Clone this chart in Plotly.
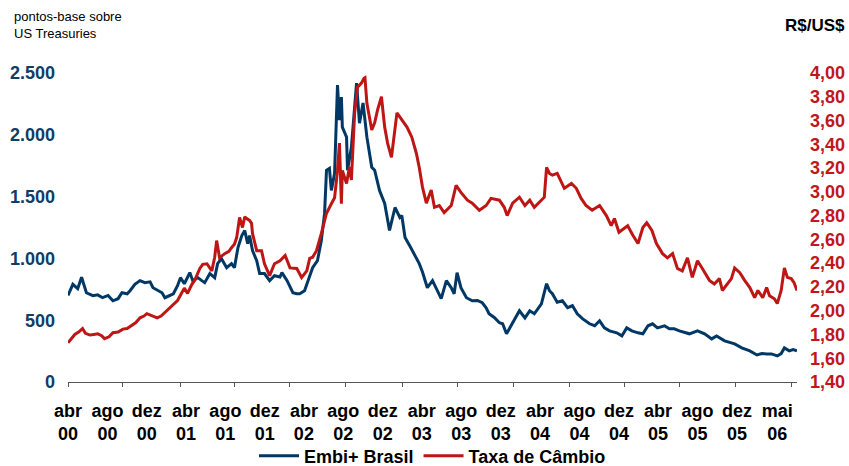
import plotly.graph_objects as go

# ---------------- data ----------------
embi_dates = [
    "2000-04-01","2000-04-16","2000-05-01","2000-05-13","2000-05-28","2000-06-17","2000-07-02","2000-07-17",
    "2000-08-03","2000-08-18","2000-09-03","2000-09-15","2000-10-01","2000-10-10","2000-10-25","2000-11-10",
    "2000-11-25","2000-12-11","2000-12-20","2001-01-05","2001-01-17","2001-01-26","2001-02-12","2001-02-21",
    "2001-03-06","2001-03-15","2001-03-27","2001-04-13","2001-04-22","2001-05-08","2001-05-20","2001-05-29",
    "2001-06-14","2001-06-29","2001-07-08","2001-07-20","2001-08-05","2001-08-20","2001-08-29","2001-09-09",
    "2001-09-21","2001-09-30","2001-10-09","2001-10-15","2001-10-24","2001-11-06","2001-11-15","2001-11-30",
    "2001-12-16","2001-12-31","2002-01-17","2002-01-23","2002-02-08","2002-02-17","2002-02-26","2002-03-10",
    "2002-03-19","2002-04-03","2002-04-12","2002-04-28","2002-05-13","2002-05-25","2002-06-04","2002-06-10",
    "2002-06-19","2002-06-25","2002-07-05","2002-07-14","2002-07-20","2002-07-26","2002-07-29","2002-08-11",
    "2002-08-14","2002-08-26","2002-09-05","2002-09-11","2002-09-20","2002-10-01","2002-10-13","2002-10-22",
    "2002-10-28","2002-11-06","2002-11-15","2002-11-21","2002-12-07","2002-12-22","2003-01-08","2003-01-23",
    "2003-01-29","2003-02-08","2003-02-23","2003-03-15","2003-03-24","2003-04-03","2003-04-09","2003-04-18",
    "2003-05-04","2003-05-19","2003-05-31","2003-06-16","2003-07-01","2003-07-10","2003-07-19","2003-07-31",
    "2003-08-17","2003-09-04","2003-09-20","2003-10-05","2003-10-17","2003-10-26","2003-11-12","2003-11-27",
    "2003-12-07","2003-12-19","2003-12-28","2004-01-07","2004-01-22","2004-01-28","2004-02-14","2004-02-29",
    "2004-03-14","2004-03-29","2004-04-05","2004-04-21","2004-04-30","2004-05-09","2004-05-24","2004-06-09",
    "2004-06-25","2004-07-10","2004-07-25","2004-08-11","2004-09-01","2004-09-17","2004-10-02","2004-10-17",
    "2004-11-02","2004-11-24","2004-12-10","2004-12-25","2005-01-10","2005-01-29","2005-02-13","2005-03-01",
    "2005-03-15","2005-03-30","2005-04-21","2005-05-06","2005-05-21","2005-06-06","2005-06-21","2005-07-07",
    "2005-08-01","2005-08-23","2005-09-14","2005-09-29","2005-10-24","2005-11-08","2005-11-24","2005-12-16",
    "2006-01-10","2006-02-01","2006-02-16","2006-03-03","2006-03-18","2006-04-05","2006-04-17","2006-04-27",
    "2006-05-12","2006-05-24","2006-06-05",
]
embi_values = [
    700, 790, 755, 847, 722, 698, 705, 682,
    700, 657, 674, 722, 714, 739, 790, 820,
    804, 810, 763, 740, 722, 682, 700, 714,
    779, 844, 795, 885, 820, 844, 820, 804,
    877, 844, 958, 998, 925, 958, 925, 1088,
    1185, 1226, 1120, 1185, 1063, 982, 877, 877,
    820, 860, 850, 885, 820, 770, 722, 714,
    714, 739, 800, 925, 982, 1144, 1364, 1713,
    1729, 1550, 1688, 2403, 2119, 2305, 2062, 1981,
    1713, 1899, 2224, 2419, 2094, 2257, 1981, 1851,
    1737, 1713, 1607, 1550, 1445, 1226, 1412, 1331,
    1347, 1169, 1100, 1006, 958, 890, 844, 763,
    820, 739, 674, 820, 763, 714, 885, 763,
    682, 657, 660, 641, 600, 552, 520, 479,
    471, 390, 430, 471, 540, 576, 519, 576,
    552, 601, 633, 795, 739, 714, 645, 657,
    601, 617, 552, 511, 471, 455, 495, 438,
    414, 398, 373, 438, 414, 398, 390, 455,
    471, 438, 455, 430, 430, 414, 405, 390,
    414, 390, 349, 373, 333, 320, 308, 276,
    252, 219, 230, 227, 227, 211, 230, 276,
    252, 262, 252,
]

fx_dates = [
    "2000-04-01","2000-04-10","2000-04-22","2000-05-04","2000-05-16","2000-05-25","2000-06-08","2000-06-20",
    "2000-07-02","2000-07-14","2000-07-23","2000-08-06","2000-08-18","2000-09-03","2000-09-18","2000-10-01",
    "2000-10-16","2000-10-28","2000-11-10","2000-11-22","2000-12-01","2000-12-17","2001-01-02","2001-01-14",
    "2001-01-26","2001-02-09","2001-02-18","2001-02-27","2001-03-06","2001-03-15","2001-03-27","2001-04-06",
    "2001-04-19","2001-04-28","2001-05-14","2001-05-23","2001-06-05","2001-06-20","2001-06-29","2001-07-05",
    "2001-07-14","2001-07-30","2001-08-12","2001-08-20","2001-08-29","2001-09-05","2001-09-14","2001-09-23",
    "2001-09-30","2001-10-06","2001-10-15","2001-10-21","2001-10-24","2001-11-06","2001-11-21","2001-11-30",
    "2001-12-16","2001-12-31","2002-01-17","2002-02-02","2002-02-17","2002-03-10","2002-03-25","2002-04-10",
    "2002-04-19","2002-04-28","2002-05-10","2002-05-25","2002-06-10","2002-06-25","2002-07-05","2002-07-14",
    "2002-07-20","2002-07-26","2002-07-29","2002-08-11","2002-08-20","2002-08-26","2002-09-05","2002-09-14",
    "2002-09-26","2002-10-04","2002-10-07","2002-10-13","2002-10-28","2002-11-06","2002-11-15","2002-11-27",
    "2002-12-07","2002-12-16","2002-12-28","2003-01-14","2003-01-29","2003-02-14","2003-03-01","2003-03-15",
    "2003-03-24","2003-04-03","2003-04-15","2003-04-30","2003-05-10","2003-05-25","2003-06-09","2003-07-01",
    "2003-07-16","2003-07-31","2003-08-20","2003-09-04","2003-09-26","2003-10-17","2003-11-01","2003-11-27",
    "2003-12-12","2003-12-21","2004-01-07","2004-01-28","2004-02-14","2004-02-29","2004-03-14","2004-04-05",
    "2004-04-14","2004-04-21","2004-04-30","2004-05-09","2004-05-24","2004-06-15","2004-07-07","2004-07-22",
    "2004-08-06","2004-08-21","2004-09-09","2004-10-02","2004-10-23","2004-11-07","2004-11-17","2004-12-01",
    "2004-12-28","2005-01-13","2005-01-29","2005-02-13","2005-02-25","2005-03-13","2005-03-27","2005-04-15",
    "2005-04-30","2005-05-16","2005-05-31","2005-06-15","2005-07-01","2005-07-16","2005-08-01","2005-08-16",
    "2005-09-07","2005-09-22","2005-10-08","2005-10-17","2005-11-01","2005-11-14","2005-11-24","2005-12-10",
    "2005-12-25","2006-01-10","2006-01-25","2006-02-04","2006-02-19","2006-03-03","2006-03-12","2006-03-27",
    "2006-04-05","2006-04-17","2006-04-27","2006-05-06","2006-05-18","2006-05-27","2006-06-05",
]
fx_values = [
    1.73, 1.76, 1.80, 1.82, 1.85, 1.81, 1.795, 1.80,
    1.805, 1.79, 1.765, 1.78, 1.815, 1.82, 1.845, 1.85,
    1.875, 1.90, 1.94, 1.955, 1.975, 1.955, 1.94, 1.955,
    1.985, 2.02, 2.04, 2.06, 2.085, 2.13, 2.19, 2.145,
    2.22, 2.255, 2.355, 2.39, 2.395, 2.335, 2.45, 2.59,
    2.445, 2.48, 2.50, 2.53, 2.56, 2.615, 2.785, 2.70,
    2.79, 2.775, 2.76, 2.735, 2.65, 2.505, 2.505, 2.395,
    2.295, 2.395, 2.42, 2.465, 2.36, 2.355, 2.28, 2.335,
    2.44, 2.45, 2.505, 2.65, 2.82, 2.90, 2.95, 3.18,
    3.41, 2.90, 3.18, 3.07, 3.21, 3.10, 3.66, 3.88,
    3.915, 3.955, 3.96, 3.745, 3.52, 3.58, 3.69, 3.80,
    3.545, 3.41, 3.29, 3.665, 3.605, 3.545, 3.46, 3.325,
    3.205, 3.04, 2.905, 3.015, 2.87, 2.885, 2.825, 2.885,
    3.055, 2.995, 2.93, 2.905, 2.845, 2.885, 2.945, 2.93,
    2.87, 2.80, 2.905, 2.955, 2.885, 2.93, 2.87, 2.93,
    2.955, 3.205, 3.155, 3.14, 3.155, 3.03, 3.07, 3.03,
    2.945, 2.885, 2.845, 2.885, 2.80, 2.715, 2.775, 2.66,
    2.715, 2.635, 2.565, 2.70, 2.74, 2.675, 2.565, 2.48,
    2.445, 2.48, 2.355, 2.335, 2.445, 2.28, 2.42, 2.355,
    2.255, 2.225, 2.27, 2.17, 2.225, 2.27, 2.36, 2.32,
    2.255, 2.195, 2.11, 2.17, 2.11, 2.195, 2.125, 2.10,
    2.06, 2.17, 2.36, 2.28, 2.27, 2.235, 2.17,
]

x_range = ["2000-04-01", "2006-06-05"]
xlabel_dates = ["2000-04-01", "2000-08-01", "2000-12-01", "2001-04-01", "2001-08-01", "2001-12-01",
                "2002-04-01", "2002-08-01", "2002-12-01", "2003-04-01", "2003-08-01", "2003-12-01",
                "2004-04-01", "2004-08-01", "2004-12-01", "2005-04-01", "2005-08-01", "2005-12-01",
                "2006-04-05"]
xlabel_text = ["abr<br>00", "ago<br>00", "dez<br>00", "abr<br>01", "ago<br>01", "dez<br>01",
               "abr<br>02", "ago<br>02", "dez<br>02", "abr<br>03", "ago<br>03", "dez<br>03",
               "abr<br>04", "ago<br>04", "dez<br>04", "abr<br>05", "ago<br>05", "dez<br>05",
               "mai<br>06"]
xtick_mark_dates = ["2000-04-01", "2000-09-18", "2001-03-14", "2001-08-30", "2002-02-16", "2002-08-07",
                    "2003-01-30", "2003-07-19", "2004-01-09", "2004-06-30", "2004-12-17", "2005-06-06",
                    "2005-11-26", "2006-05-18"]
embi_ticks = [0, 500, 1000, 1500, 2000, 2500]
fx_ticks = [1.4, 1.6, 1.8, 2.0, 2.2, 2.4, 2.6, 2.8, 3.0, 3.2, 3.4, 3.6, 3.8, 4.0]

# ---------------- style ----------------
BLUE = "#003865"
BLUE_TXT = "#0E3D66"
RED = "#BE1515"
RED_TXT = "#C0161C"
AXIS = "#555555"
FONT = "Liberation Sans, Arial, sans-serif"

fig = go.Figure()
fig.add_trace(go.Scatter(x=embi_dates, y=embi_values, name="Embi+ Brasil", mode="lines",
                         line=dict(color=BLUE, width=3), yaxis="y"))
fig.add_trace(go.Scatter(x=fx_dates, y=fx_values, name="Taxa de Câmbio", mode="lines",
                         line=dict(color=RED, width=3), yaxis="y2"))
# helper trace so the tick-mark axis is drawn
fig.add_trace(go.Scatter(x=[embi_dates[0]], y=[embi_values[0]], xaxis="x2", yaxis="y",
                         mode="lines", showlegend=False, hoverinfo="skip"))

fig.update_layout(
    width=849, height=466,
    paper_bgcolor="white", plot_bgcolor="white",
    margin=dict(l=68, r=52, t=73, b=84, autoexpand=False),
    separators=",.",
    font=dict(family=FONT, color="black"),
    showlegend=True,
    legend=dict(orientation="h", x=0.5, xanchor="center", y=-0.2395, yanchor="middle",
                font=dict(family=FONT, size=18, color="black", weight="bold"),
                bgcolor="rgba(0,0,0,0)", itemwidth=40),
    xaxis=dict(type="date", range=x_range, tickmode="array", tickvals=xlabel_dates,
               ticktext=xlabel_text, ticks="", showline=True, linecolor=AXIS, linewidth=1,
               showgrid=False, zeroline=False, ticklabelstandoff=12,
               tickfont=dict(family=FONT, size=18, color="black", weight="bold")),
    xaxis2=dict(type="date", range=x_range, overlaying="x", anchor="y", side="bottom",
                tickmode="array", tickvals=xtick_mark_dates, ticks="outside", ticklen=4,
                tickcolor=AXIS, tickwidth=1, showticklabels=False, showline=False,
                showgrid=False, zeroline=False),
    yaxis=dict(range=[0, 2500], tickmode="array", tickvals=embi_ticks, tickformat=",d",
               showgrid=False, zeroline=False, showline=False, ticks="",
               ticklabelstandoff=12,
               tickfont=dict(family=FONT, size=18, color=BLUE_TXT, weight="bold")),
    yaxis2=dict(range=[1.4, 4.0], overlaying="y", side="right", tickmode="array",
                tickvals=fx_ticks, tickformat=".2f", showgrid=False, zeroline=False,
                showline=False, ticks="", ticklabelstandoff=12,
                tickfont=dict(family=FONT, size=18, color=RED_TXT, weight="bold")),
    annotations=[
        dict(text="pontos-base sobre<br>US Treasuries", xref="paper", yref="paper",
             x=-0.077, y=1.215, xanchor="left", yanchor="top", align="left", showarrow=False,
             font=dict(family=FONT, size=13, color="black")),
        dict(text="R$/US$", xref="paper", yref="paper", x=1.0686, y=1.155,
             xanchor="right", yanchor="middle", showarrow=False,
             font=dict(family=FONT, size=17, color="black", weight="bold")),
    ],
)

# remove the page's default body margin so the figure fills the window exactly
fig.write_html("out.html", config={"displayModeBar": False},
               post_script="document.body.style.margin='0px';document.body.style.overflow='hidden';")
